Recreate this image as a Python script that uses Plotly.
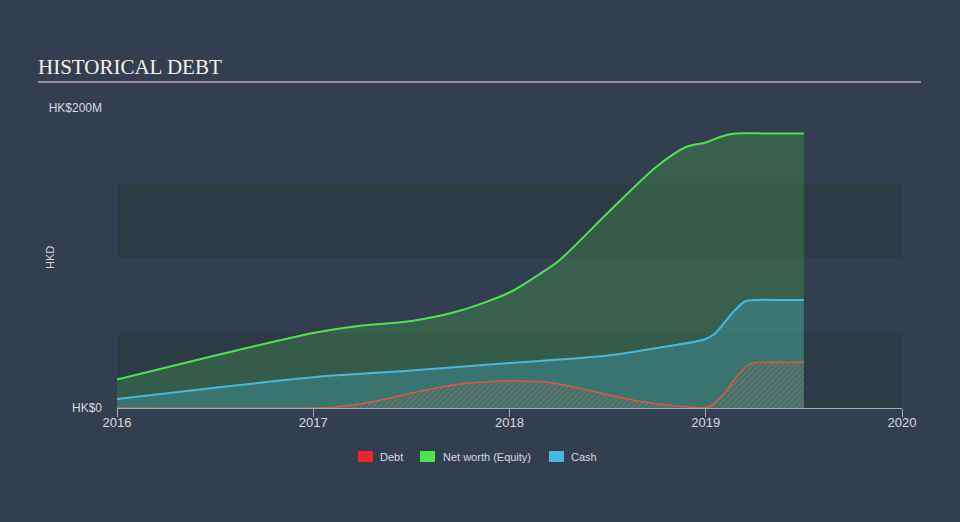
import plotly.graph_objects as go

# ---- data (decimal years, HK$ millions) ----
nw_x = [2016.0, 2016.5, 2017.0, 2017.25, 2017.5, 2017.75, 2018.0, 2018.15, 2018.25, 2018.5, 2018.75, 2018.9, 2019.0, 2019.08, 2019.15, 2019.3, 2019.5]
nw_y = [19, 35, 50, 55, 58, 65, 77, 89, 98, 130, 161, 174, 177, 181, 183, 183, 183]

cash_x = [2016.0, 2016.5, 2017.0, 2017.5, 2018.0, 2018.5, 2018.75, 2019.0, 2019.05, 2019.14, 2019.2, 2019.26, 2019.38, 2019.5]
cash_y = [6, 13.5, 20.5, 25, 30, 35, 40, 46, 50, 64, 71, 72, 72, 72]

debt_x = [2016.0, 2017.0, 2017.1, 2017.3, 2017.5, 2017.75, 2018.0, 2018.2, 2018.4, 2018.6, 2018.8, 2019.0, 2019.02, 2019.09, 2019.17, 2019.23, 2019.3, 2019.4, 2019.5]
debt_y = [0, 0, 0.5, 4, 10, 16, 18, 17, 12, 6, 2, 0.3, 1, 9, 23, 29.5, 30.5, 30.5, 30.5]

year_ticks = [2016, 2017, 2018, 2019, 2020]
year_labels = ["2016", "2017", "2018", "2019", "2020"]
y_ticks = [0, 200]
y_labels = ["HK$0", "HK$200M"]

legend_names = ["Debt", "Net worth (Equity)", "Cash"]
legend_colors = ["#e8282b", "#4ee44e", "#47b8df"]

BG = "#333f4f"
BAND = "#2d3a48"
TXT = "#d5dae0"
AXIS = "#a3acb8"

# plot area in pixels
PL, PR, PT, PB = 117, 902, 108, 408
def px(xp):
    return (xp - PL) / (PR - PL)
def py(yp):
    return (PB - yp) / (PB - PT)

fig = go.Figure()

fig.add_trace(go.Scatter(
    x=nw_x, y=nw_y, mode="lines", line=dict(color="#4ee44e", width=2, shape="spline", smoothing=0.8),
    fill="tozeroy", fillcolor="rgba(78,228,78,0.2)", showlegend=False, hoverinfo="skip"))
fig.add_trace(go.Scatter(
    x=cash_x, y=cash_y, mode="lines", line=dict(color="#47b8df", width=2, shape="spline", smoothing=0.8),
    fill="tozeroy", fillcolor="rgba(71,184,223,0.27)", showlegend=False, hoverinfo="skip"))
fig.add_trace(go.Scatter(
    x=debt_x, y=debt_y, mode="lines", line=dict(color="#e0583e", width=1.5, shape="spline", smoothing=0.8),
    fill="tozeroy", fillcolor="rgba(0,0,0,0)",
    fillpattern=dict(shape="/", fgcolor="#c8674e", bgcolor="rgba(0,0,0,0)", size=4, solidity=0.35),
    showlegend=False, hoverinfo="skip"))

shapes = [
    dict(type="rect", xref="paper", yref="y", x0=0, x1=1, y0=0, y1=50, fillcolor=BAND, line_width=0, layer="below"),
    dict(type="rect", xref="paper", yref="y", x0=0, x1=1, y0=100, y1=150, fillcolor=BAND, line_width=0, layer="below"),
    dict(type="line", xref="paper", yref="paper", x0=px(38), x1=px(921),
         y0=py(82), y1=py(82), line=dict(color="#a9b0b9", width=1.5)),
]

annotations = [dict(text="HKD", xref="paper", yref="paper", x=px(50), y=0.5,
                    textangle=-90, showarrow=False, font=dict(size=11, color=TXT),
                    xanchor="center", yanchor="middle")]

# manual legend
leg_sq_left = [358, 420, 549]
leg_txt_left = [378, 441, 569]
for name, col, sx, tx in zip(legend_names, legend_colors, leg_sq_left, leg_txt_left):
    shapes.append(dict(type="rect", xref="paper", yref="paper", x0=px(sx), x1=px(sx + 15),
                       y0=py(462), y1=py(451), fillcolor=col, line_width=0))
    annotations.append(dict(text=name, xref="paper", yref="paper", x=px(tx), y=py(457),
                            xanchor="left", yanchor="middle", showarrow=False,
                            font=dict(size=11, color=TXT)))

fig.update_layout(
    width=960, height=522,
    paper_bgcolor=BG, plot_bgcolor=BG,
    margin=dict(l=PL, r=960 - PR, t=PT, b=522 - PB),
    font=dict(family="Liberation Sans, Arial, sans-serif", color=TXT, size=12),
    title=dict(text="HISTORICAL DEBT", x=38 / 960, xanchor="left", xref="container",
               y=1 - 67 / 522, yanchor="middle", yref="container",
               font=dict(family="Liberation Serif, Times New Roman, serif", size=21, color="#f0f2f4")),
    shapes=shapes,
    annotations=annotations,
    showlegend=False,
    xaxis=dict(range=[2016, 2020], tickvals=year_ticks, ticktext=year_labels,
               showgrid=False, zeroline=False, showline=True, linecolor=AXIS, linewidth=1,
               ticks="outside", ticklen=8, tickcolor=AXIS, ticklabelstandoff=-6,
               tickfont=dict(size=13, color=TXT)),
    yaxis=dict(range=[0, 200], tickvals=y_ticks, ticktext=y_labels, showgrid=False, zeroline=False,
               showline=False, ticks="", ticklabelstandoff=14, tickfont=dict(size=12, color=TXT)),
)

fig.write_html("out.html")
